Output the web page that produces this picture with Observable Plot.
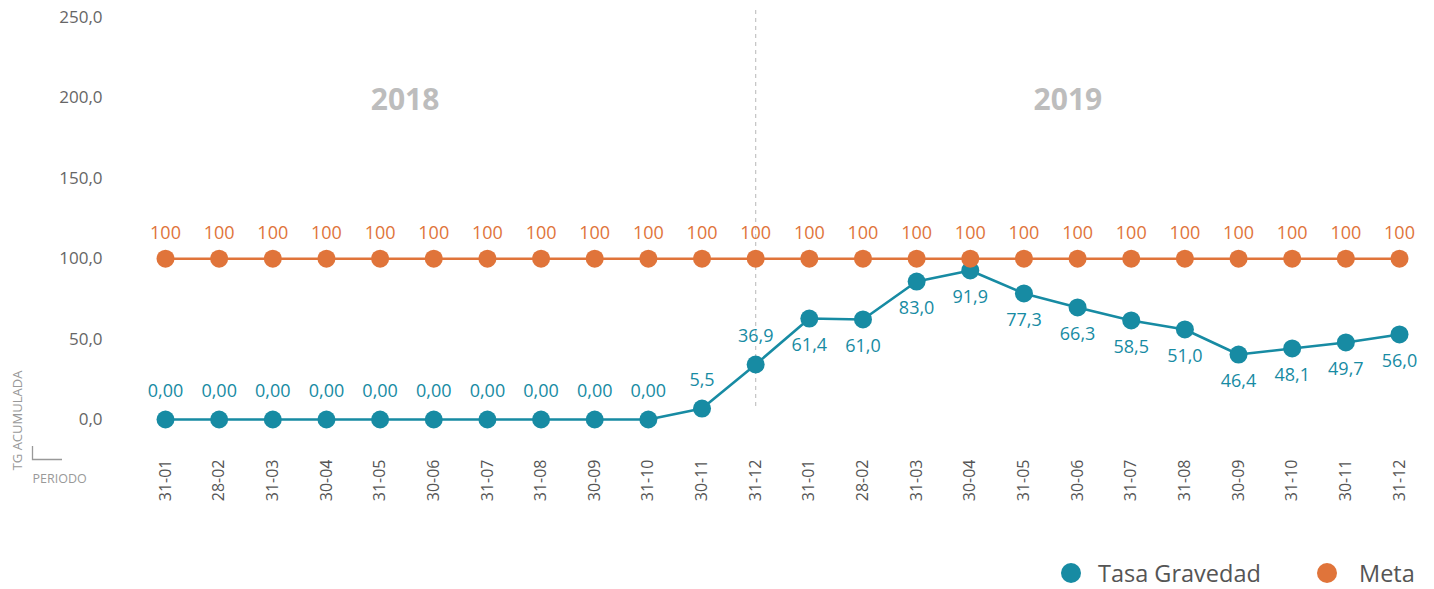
<!DOCTYPE html>
<html>
<head>
<meta charset="utf-8">
<script src="https://cdn.jsdelivr.net/npm/d3@7"></script>
<script src="https://cdn.jsdelivr.net/npm/@observablehq/plot@0.6"></script>
<style>
  html, body { margin: 0; padding: 0; background: #fff; }
  #wrap { position: relative; width: 1434px; height: 589px; font-family: "Open Sans", sans-serif; }
  #legend { position: absolute; left: 0; top: 540px; width: 1434px; height: 49px; }
  .sw { position: absolute; width: 20px; height: 20px; border-radius: 50%; top: 23px; }
  .lt { position: absolute; top: 18px; font-size: 23.5px; line-height: 30px; color: #555; }
</style>
</head>
<body>
<div id="wrap">
  <div id="chart"></div>
  <div id="legend">
    <div class="sw" style="left:1061px;background:#178ba3"></div>
    <div class="lt" style="left:1098px">Tasa Gravedad</div>
    <div class="sw" style="left:1317px;background:#e0743a"></div>
    <div class="lt" style="left:1359px">Meta</div>
  </div>
</div>
<script>
const years = ["2018", "2019"];
const periods = ["31-01","28-02","31-03","30-04","31-05","30-06","31-07","31-08","30-09","31-10","30-11","31-12"];
const tasaGravedad = [0,0,0,0,0,0,0,0,0,0,6.8,34.2, 62.8,62.2,85.8,92.7,78.4,69.7,61.6,56.0,40.4,44.2,47.9,52.9];
const tasaLabels = ["0,00","0,00","0,00","0,00","0,00","0,00","0,00","0,00","0,00","0,00","5,5","36,9",
                    "61,4","61,0","83,0","91,9","77,3","66,3","58,5","51,0","46,4","48,1","49,7","56,0"];
const meta = [100,100,100,100,100,100,100,100,100,100,100,100, 100,100,100,100,100,100,100,100,100,100,100,100];
const yTicks = [0, 50, 100, 150, 200, 250];

const TEAL = "#178ba3", ORANGE = "#e0743a";

const keys = years.flatMap(y => periods.map(p => `${y}|${p}`));
const rows = keys.map((k, i) => ({
  key: k, year: k.split("|")[0], period: k.split("|")[1],
  tg: tasaGravedad[i], tgLabel: tasaLabels[i], meta: meta[i]
}));
const above = rows.filter(d => d.year === "2018");
const below = rows.filter(d => d.year === "2019");
const fmt = d => d3.format(".1f")(d).replace(".", ",");

const chart = Plot.plot({
  width: 1434,
  height: 540,
  marginTop: 17,
  marginBottom: 121,
  marginLeft: 110,
  marginRight: 20,
  style: { fontFamily: "Open Sans, sans-serif", background: "#fff", overflow: "visible" },
  x: { type: "point", domain: keys, range: [165, 1399], padding: 0, round: false, axis: null },
  y: { domain: [0, 250], axis: null },
  marks: [
    Plot.ruleX([keys[11]], { x: d => d, stroke: "#c4c4c4", strokeWidth: 1.2, strokeDasharray: "4,4", insetTop: -7, insetBottom: 11 }),
    Plot.axisY({ ticks: yTicks, tickFormat: fmt, tickSize: 0, tickPadding: 8, fontSize: 17, color: "#666", label: null }),
    Plot.line(rows, { x: "key", y: "tg", stroke: TEAL, strokeWidth: 2.6 }),
    Plot.dot(rows, { x: "key", y: "tg", r: 9, fill: TEAL }),
    Plot.text(above, { x: "key", y: "tg", text: "tgLabel", dy: -28, fill: TEAL, fontSize: 18 }),
    Plot.text(below, { x: "key", y: "tg", text: "tgLabel", dy: 27, fill: TEAL, fontSize: 18 }),
    Plot.line(rows, { x: "key", y: "meta", stroke: ORANGE, strokeWidth: 2.6 }),
    Plot.dot(rows, { x: "key", y: "meta", r: 9, fill: ORANGE }),
    Plot.text(rows, { x: "key", y: "meta", text: d => String(d.meta), dy: -25, fill: ORANGE, fontSize: 18 }),
    Plot.text(rows, { x: "key", text: "period", frameAnchor: "bottom", dy: 40, rotate: -90, textAnchor: "end", lineAnchor: "middle", fill: "#555", fontSize: 16 }),
    Plot.text([years[0]], { x: () => keys[4], text: d => d, frameAnchor: "top", lineAnchor: "middle", dy: 83, dx: 25, fill: "#bdbdbd", fontSize: 30, fontWeight: "bold" }),
    Plot.text([years[1]], { x: () => keys[16], text: d => d, frameAnchor: "top", lineAnchor: "middle", dy: 83, dx: 44, fill: "#bdbdbd", fontSize: 30, fontWeight: "bold" }),
    Plot.text(["TG ACUMULADA"], { frameAnchor: "bottom-left", textAnchor: "middle", lineAnchor: "middle", dx: -93, dy: 1, rotate: -90, fill: "#999", fontSize: 13 }),
    Plot.text(["PERIODO"], { frameAnchor: "bottom-left", textAnchor: "start", lineAnchor: "middle", dx: -78, dy: 59, fill: "#999", fontSize: 12.5 })
  ]
});

const svg = d3.select(chart);
svg.append("path")
  .attr("d", "M32.5,446V459.5H62")
  .attr("fill", "none")
  .attr("stroke", "#999")
  .attr("stroke-width", 1.3);

document.getElementById("chart").appendChild(chart);
</script>
</body>
</html>
